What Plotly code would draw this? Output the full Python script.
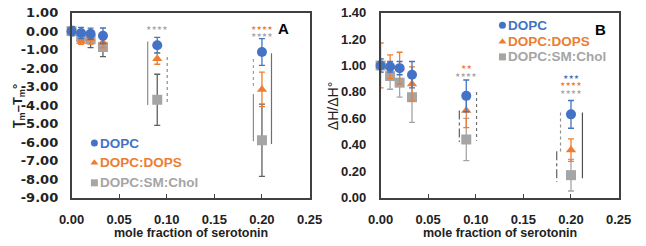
import plotly.graph_objects as go

# ---------------- data ----------------
x_frac = [0.0, 0.01, 0.02, 0.033, 0.09, 0.20]

# Panel A: Tm - Tm°
A_dopc = [0.0, -0.10, -0.14, -0.25, -0.76, -1.13]
A_dopc_err = [0.25, 0.30, 0.30, 0.42, 0.42, 0.72]
A_dops = [0.0, -0.56, -0.40, -0.60, -1.49, -3.15]
A_dops_err = [0.20, 0.15, 0.30, 0.30, 0.30, 0.93]
A_chol = [0.0, -0.30, -0.44, -0.86, -3.71, -5.90]
A_chol_err = [0.15, 0.30, 0.45, 0.52, 1.38, 1.95]

# Panel B: ΔH/ΔH°
B_dopc = [1.00, 0.99, 0.98, 0.93, 0.77, 0.63]
B_dopc_err = [0.05, 0.04, 0.05, 0.10, 0.12, 0.105]
B_dops = [1.00, 0.99, 0.98, 0.86, 0.66, 0.36]
B_dops_err = [0.17, 0.09, 0.12, 0.13, 0.13, 0.085]
B_chol = [1.00, 0.92, 0.87, 0.76, 0.44, 0.17]
B_chol_err = [0.05, 0.10, 0.11, 0.19, 0.16, 0.12]

series_names = ["DOPC", "DOPC:DOPS", "DOPC:SM:Chol"]

x_ticks = [0.0, 0.05, 0.10, 0.15, 0.20, 0.25]
x_ticktext = ["0.00", "0.05", "0.10", "0.15", "0.20", "0.25"]
A_yticks = [1, 0, -1, -2, -3, -4, -5, -6, -7, -8, -9]
A_yticktext = ["1.00", "0.00", "-1.00", "-2.00", "-3.00", "-4.00", "-5.00",
               "-6.00", "-7.00", "-8.00", "-9.00"]
B_yticks = [0.0, 0.2, 0.4, 0.6, 0.8, 1.0, 1.2, 1.4]
B_yticktext = ["0.00", "0.20", "0.40", "0.60", "0.80", "1.00", "1.20", "1.40"]

# significance stars: (x, y, text, series index)
A_stars = [(0.09, 0.18, "★★★★", 2), (0.20, 0.17, "★★★★", 1), (0.20, -0.20, "★★★★", 2)]
B_stars = [(0.09, 0.99, "★★", 1), (0.09, 0.93, "★★★★", 2),
           (0.20, 0.92, "★★★", 0), (0.20, 0.86, "★★★★", 1), (0.20, 0.805, "★★★★", 2)]

# significance bracket lines: (x, y0, y1, dash, color)
A_lines = [(0.080, -0.56, -4.0, "solid", "#8c8c8c"),
           (0.1005, -1.40, -4.0, "dot", "#8c8c8c"),
           (0.191, -1.50, -3.07, "dot", "#a0a0a0"),
           (0.191, -3.40, -5.95, "solid", "#8c8c8c"),
           (0.210, -1.20, -6.10, "solid", "#707070")]
B_lines = [(0.0827, 0.66, 0.42, "dashdot", "#606060"),
           (0.1008, 0.80, 0.43, "dot", "#707070"),
           (0.189, 0.645, 0.34, "dot", "#909090"),
           (0.185, 0.35, 0.118, "dashdot", "#606060"),
           (0.212, 0.645, 0.147, "solid", "#505050")]

# ---------------- style ----------------
colors = ["#4472C4", "#ED7D31", "#A5A5A5"]
A_errcolors = ["#4472C4", "#ED7D31", "#5f5f5f"]
B_errcolors = ["#4472C4", "#ED7D31", "#A5A5A5"]
symbols = ["circle", "triangle-up", "square"]
msizes = [10, 9, 10]
FONT = "Liberation Sans, Arial, sans-serif"

fig = go.Figure()

def add_panel(xa, ya, ys, errs, errcolors):
    for i in [2, 1, 0]:
        fig.add_trace(go.Scatter(
            x=x_frac, y=ys[i], mode="markers", xaxis=xa, yaxis=ya,
            marker=dict(color=colors[i], symbol=symbols[i], size=msizes[i]),
            error_y=dict(type="data", array=errs[i], color=errcolors[i],
                         thickness=1.3, width=3),
            cliponaxis=False, showlegend=False, name=series_names[i]))

add_panel("x", "y", [A_dopc, A_dops, A_chol], [A_dopc_err, A_dops_err, A_chol_err], A_errcolors)
add_panel("x2", "y2", [B_dopc, B_dops, B_chol], [B_dopc_err, B_dops_err, B_chol_err], B_errcolors)

shapes = []
for (xv, y0, y1, dash, c) in A_lines:
    shapes.append(dict(type="line", xref="x", yref="y", x0=xv, x1=xv, y0=y0, y1=y1,
                       line=dict(color=c, width=1.2, dash=dash)))
for (xv, y0, y1, dash, c) in B_lines:
    shapes.append(dict(type="line", xref="x2", yref="y2", x0=xv, x1=xv, y0=y0, y1=y1,
                       line=dict(color=c, width=1.2, dash=dash)))

annotations = []
for (xv, yv, t, i) in A_stars:
    annotations.append(dict(x=xv, y=yv, xref="x", yref="y", text=t, showarrow=False,
                            font=dict(size=6, color=colors[i], family="DejaVu Sans")))
for (xv, yv, t, i) in B_stars:
    annotations.append(dict(x=xv, y=yv, xref="x2", yref="y2", text=t, showarrow=False,
                            font=dict(size=6, color=colors[i], family="DejaVu Sans")))

# custom legends (marker + coloured bold text)
legA = [(0.024, -6.05), (0.024, -7.12), (0.024, -8.2)]
legB = [(0.128, 1.305), (0.128, 1.18), (0.128, 1.065)]
for xa, ya, pos in [("x", "y", legA), ("x2", "y2", legB)]:
    for i, (lx, ly) in enumerate(pos):
        fig.add_trace(go.Scatter(
            x=[lx], y=[ly], mode="markers", xaxis=xa, yaxis=ya,
            marker=dict(color=colors[i], symbol=symbols[i], size=7),
            showlegend=False, hoverinfo="skip", cliponaxis=False))
        annotations.append(dict(x=lx + 0.004, y=ly, xref=xa, yref=ya, text="<b>%s</b>" % series_names[i],
                                showarrow=False, xanchor="left",
                                font=dict(size=13.5, color=colors[i], family=FONT)))

# panel labels
annotations.append(dict(x=0.2225, y=0.12, xref="x", yref="y", text="<b>A</b>", showarrow=False,
                        font=dict(size=15, color="black", family=FONT)))
annotations.append(dict(x=0.231, y=1.275, xref="x2", yref="y2", text="<b>B</b>", showarrow=False,
                        font=dict(size=15, color="black", family=FONT)))

# axis titles
annotations.append(dict(x=185 / 646, y=1 - 241 / 246, xref="paper", yref="paper",
                        xanchor="center", yanchor="middle",
                        text="<b>mole fraction of serotonin</b>", showarrow=False,
                        font=dict(size=12.5, color="#222", family=FONT)))
annotations.append(dict(x=507 / 646, y=1 - 241 / 246, xref="paper", yref="paper",
                        xanchor="center", yanchor="middle",
                        text="<b>mole fraction of serotonin</b>", showarrow=False,
                        font=dict(size=12.5, color="#222", family=FONT)))
annotations.append(dict(x=6 / 646, y=1 - 105 / 246, xref="paper", yref="paper", textangle=-90,
                        xanchor="center", yanchor="middle",
                        text="<b>T<sub>m</sub>–T<sub>m</sub>°</b>", showarrow=False,
                        font=dict(size=13, color="#222", family=FONT)))
annotations.append(dict(x=333 / 646, y=1 - 106 / 246, xref="paper", yref="paper", textangle=-90,
                        xanchor="center", yanchor="middle",
                        text="ΔH/ΔH°", showarrow=False,
                        font=dict(size=14, color="#222", family=FONT)))

tickfont = dict(size=13, color="#222", family=FONT)
tickfontA = dict(size=13, color="#222", family="DejaVu Sans")

def xaxis_cfg(domain, anchor):
    return dict(domain=domain, anchor=anchor, range=[0, 0.25], tickvals=x_ticks,
                ticktext=["<b>%s</b>" % t for t in x_ticktext], tickfont=tickfont,
                ticks="inside", ticklen=4, tickcolor="#404040", tickwidth=1,
                showline=True, mirror=True, linecolor="#404040", linewidth=1.5,
                showgrid=False, zeroline=False, ticklabelstandoff=9,
                ticklabeloverflow="allow")

def yaxis_cfg(domain, anchor, rng, tv, tt, font, standoff):
    return dict(domain=domain, anchor=anchor, range=rng, tickvals=tv,
                ticktext=["<b>%s</b>" % t for t in tt], tickfont=font,
                ticks="", showline=True, mirror=True, linecolor="#404040", linewidth=1.5,
                showgrid=False, zeroline=False, ticklabelstandoff=standoff,
                ticklabeloverflow="allow")

ydom = [1 - 203 / 246, 1 - 6 / 246]
fig.update_layout(
    width=646, height=246, margin=dict(l=0, r=0, t=0, b=0),
    paper_bgcolor="white", plot_bgcolor="white", showlegend=False,
    xaxis=xaxis_cfg([61 / 646, 309 / 646], "y"),
    yaxis=yaxis_cfg(ydom, "x", [-9, 1], A_yticks, A_yticktext, tickfontA, 9),
    xaxis2=xaxis_cfg([383 / 646, 631 / 646], "y2"),
    yaxis2=yaxis_cfg(ydom, "x2", [0, 1.4], B_yticks, B_yticktext, tickfont, 10),
    shapes=shapes, annotations=annotations,
)

fig.write_html("out.html")
